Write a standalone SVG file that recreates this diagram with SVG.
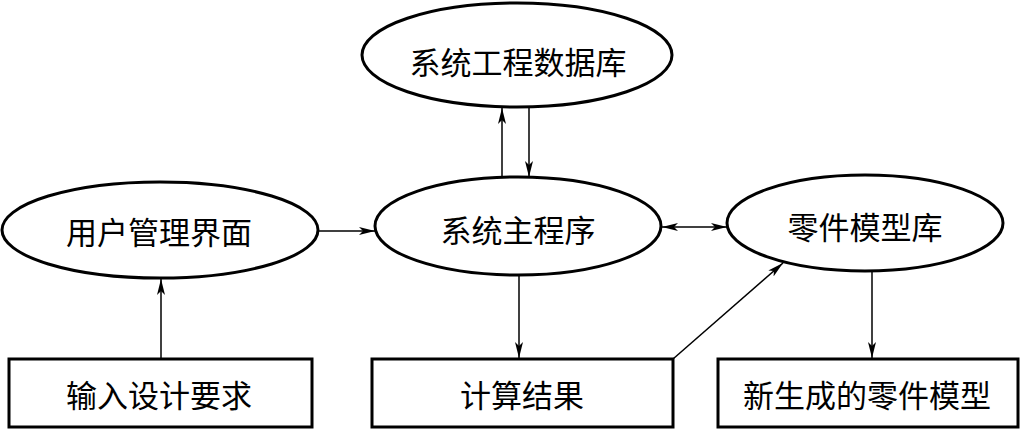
<svg xmlns="http://www.w3.org/2000/svg" width="1022" height="430" viewBox="0 0 1022 430">
<style>
.node{fill:#fff;stroke:#000;stroke-width:3}
.lbl{font-family:"Noto Sans CJK SC","Noto Sans CJK JP",sans-serif;font-size:31px;fill:#000;text-anchor:middle;dominant-baseline:central}
.conn{stroke:#000;stroke-width:1.5;fill:none}
</style>
<defs>
<marker id="ah" markerUnits="userSpaceOnUse" markerWidth="18" markerHeight="12" refX="16" refY="6" orient="auto-start-reverse">
<path d="M0,2 L16,6 L0,10 L4,6 Z" fill="#000"/>
</marker>
</defs>
<rect width="1022" height="430" fill="#fff"/>
<g id="db">
<ellipse class="node" cx="517" cy="55" rx="155" ry="52"/>
<text class="lbl" x="518" y="60">系统工程数据库</text>
</g>
<g id="ui">
<ellipse class="node" cx="160" cy="230" rx="158" ry="48"/>
<text class="lbl" x="159" y="230">用户管理界面</text>
</g>
<g id="main">
<ellipse class="node" cx="518" cy="226" rx="143" ry="49"/>
<text class="lbl" x="518" y="228">系统主程序</text>
</g>
<g id="parts">
<ellipse class="node" cx="865" cy="223" rx="138" ry="48"/>
<text class="lbl" x="865" y="225">零件模型库</text>
</g>
<g id="input">
<rect class="node" x="9" y="359" width="303" height="68"/>
<text class="lbl" x="159" y="393">输入设计要求</text>
</g>
<g id="result">
<rect class="node" x="372" y="359" width="301" height="68"/>
<text class="lbl" x="522" y="393">计算结果</text>
</g>
<g id="newpart">
<rect class="node" x="718" y="359" width="300" height="68"/>
<text class="lbl" x="867" y="393">新生成的零件模型</text>
</g>
<g id="connectors">
<line class="conn" x1="502" y1="177" x2="502" y2="108" marker-end="url(#ah)"/>
<line class="conn" x1="529" y1="108" x2="529" y2="177" marker-end="url(#ah)"/>
<line class="conn" x1="318" y1="231" x2="375" y2="231" marker-end="url(#ah)"/>
<line class="conn" x1="662" y1="227" x2="727" y2="227" marker-start="url(#ah)" marker-end="url(#ah)"/>
<line class="conn" x1="161" y1="358" x2="161" y2="279" marker-end="url(#ah)"/>
<line class="conn" x1="519" y1="275" x2="519" y2="358" marker-end="url(#ah)"/>
<line class="conn" x1="673" y1="359" x2="783" y2="263" marker-end="url(#ah)"/>
<line class="conn" x1="872" y1="271" x2="872" y2="358" marker-end="url(#ah)"/>
</g>
</svg>
